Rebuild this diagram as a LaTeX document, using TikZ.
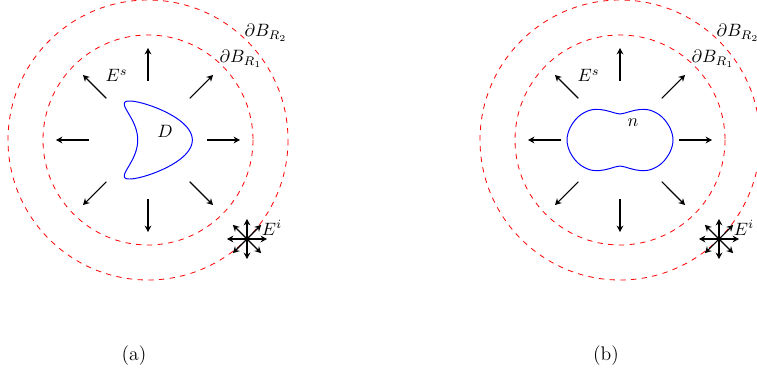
\documentclass[tikz,border=0pt]{standalone}
\usetikzlibrary{arrows.meta}
\begin{document}
\begin{tikzpicture}[x=0.56pt,y=-0.56pt,
  bnd/.style={red,dashed,line width=0.45pt},
  farrow/.style={-{Stealth[length=3.6pt,width=3.8pt,inset=1.2pt]},line width=0.6pt},
  obst/.style={blue,line width=0.55pt},
  lbl/.style={inner sep=0pt},
  captext/.style={inner sep=0pt,font=\fontsize{11}{13}\selectfont}]
\useasboundingbox (0,0) rectangle (757,378);
\foreach \cx/\nm/\lab in {148/a/(a),620/b/(b)} {
  \begin{scope}[shift={(\cx,140)}]
    \draw[bnd] (0,0) circle[radius=105];
    \draw[bnd] (0,0) circle[radius=140];
    \foreach \a in {0,45,...,315}
      \draw[farrow] (\a:59) -- (\a:92);
    \coordinate (star\nm) at (45:140);
    \foreach \a in {0,45,...,315}
      \draw[farrow] (star\nm) -- ++(\a:20);
    \node[lbl] (Es\nm) at (-31.5,-64.3) {$E^s$};
    \node[lbl] (Ei\nm) at (124,88) {$E^i$};
    \node[lbl] (BR1\nm) at (93,-81) {$\partial B_{R_1}$};
    \node[lbl] (BR2\nm) at (118,-107) {$\partial B_{R_2}$};
    \node[captext] (cap\nm) at (-14,215.7) {\lab};
  \end{scope}
}
\begin{scope}[shift={(148,140)}]
  \draw[obst] plot[domain=0:360,samples=181] ({17+27.3*(cos(\x)+0.65*cos(2*\x)-0.65)},{39*sin(\x)}) -- cycle;
  \node[lbl] (D) at (17,-9) {$D$};
\end{scope}
\begin{scope}[shift={(620,140)}]
  \draw[obst] plot[smooth cycle,tension=0.6] coordinates {
    (53,0) (50,12) (42,23) (31,29.5) (20,30.5) (10,28.5) (0,26)
    (-10,28.5) (-20,30.5) (-31,29.5) (-42,23) (-50,12) (-53,0)
    (-50,-12) (-42,-23) (-31,-29.5) (-20,-30.5) (-10,-28.5) (0,-26)
    (10,-28.5) (20,-30.5) (31,-29.5) (42,-23) (50,-12)};
  \node[lbl] (n) at (13,-17) {$n$};
\end{scope}
\end{tikzpicture}
\end{document}
